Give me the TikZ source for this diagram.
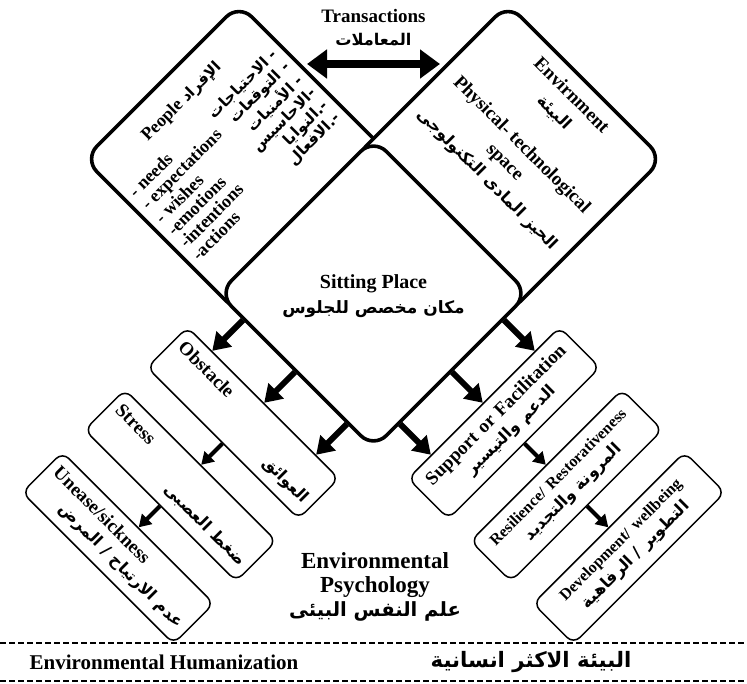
\documentclass[tikz,border=0pt]{standalone}
\usepackage{fontspec}
\setmainfont{Liberation Serif}
\newfontfamily\arfont[Script=Arabic,Scale=0.85]{DejaVu Sans}
\TeXXeTstate=1
\usetikzlibrary{arrows.meta,calc,positioning}
\newcommand{\arb}[1]{{\arfont\bfseries\beginR #1\endR}}
\tikzset{
    every node/.style={font=\bfseries\fontsize{19}{21}\selectfont},
    bigbox/.style={draw, line width=3.6pt, fill=white, rounded corners=18pt,
        minimum width=219pt, minimum height=219pt, inner sep=0pt},
    smallbox/.style={draw, line width=1.5pt, fill=white, rounded corners=9pt,
        minimum width=214pt, minimum height=57pt, inner sep=0pt, text width=198pt},
    bigarrow/.style={line width=6pt, -{Triangle[width=21pt,length=17pt]}},
    smallarrow/.style={line width=4pt, -{Triangle[width=14pt,length=12pt]}},
    bothways/.style={line width=8pt, {Triangle[width=28pt,length=20pt]}-{Triangle[width=28pt,length=20pt]}},
    sepline/.style={line width=1.3pt, dash pattern=on 6pt off 3pt}
}
\begin{document}
\begin{tikzpicture}[x=1pt, y=-1pt]
\useasboundingbox (0,0) rectangle (747,684);

% transactions between people and environment
\node (trans) at (373.5,16) {Transactions};
\node (transar) at (373.5,40) {\arb{المعاملات}};
\coordinate (tleft) at (307,64);
\coordinate (tright) at (440,64);
\draw[bothways] (tleft) -- (tright);

% people
\node[bigbox, rotate=45] (people) at (239,159) {};
\node[rotate=45, font=\bfseries\fontsize{18}{16.5}\selectfont] (peopletxt)
    at ($(people.center)!0.18!(people.north)$) {%
    \begin{tabular}{@{}l@{\hspace{6pt}}r@{}}
    \multicolumn{2}{@{}c@{}}{People \arb{الإفراد}}\\[14pt]
    - needs & \arb{- الاحتياجات}\\
    - expectations & \arb{- التوقعات}\\
    - wishes & \arb{- الأمنيات}\\
    -emotions & \arb{-الاحاسيس}\\
    -intentions & \arb{-.النوايا}\\
    -actions & \arb{-.الافعال}
    \end{tabular}};

% environment
\node[bigbox, rotate=45] (env) at (508,159) {};
\node[rotate=-45, align=center, font=\bfseries\fontsize{19}{24}\selectfont] (envtxt)
    at ($(env.center)!0.27!(env.east)$) {Envirnment\\ \arb{البيئة}\\[22pt]
    Physical- technological\\ space\\ \arb{الحيز المادى التكنولوجى}};

% sitting place
\node[bigbox, rotate=45] (sit) at (373.5,293.5) {};
\node[align=center, font=\bfseries\fontsize{20}{25}\selectfont] (sittxt)
    at ($(sit.center)+(0,3)$) {Sitting Place\\ \arb{مكان مخصص للجلوس}};

% outcomes
\node[smallbox, rotate=-45, align=left] (obs) at (243,423) {Obstacle\\ \leavevmode\hfill\arb{العوائق}};
\node[smallbox, rotate=-45, align=left] (stress) at (180.5,485.5) {Stress\\ \leavevmode\hfill\arb{ضغط العصبى}};
\node[smallbox, rotate=-45, align=left] (unease) at (118,548) {Unease/sickness\\ \leavevmode\hfill\arb{عدم الارتياح / المرض}};
\node[smallbox, rotate=45, align=center] (sup) at (504,423) {Support or Facilitation\\ \arb{الدعم والتيسير}};
\node[smallbox, rotate=45, align=center] (res) at (566.5,485.5) {{\fontsize{16}{18}\selectfont Resilience/ Restorativeness}\\ \arb{المرونة والتجديد}};
\node[smallbox, rotate=45, align=center] (dev) at (629,548) {{\fontsize{16}{18}\selectfont Development/ wellbeing}\\ \arb{التطوير / الرفاهية}};

% arrows out of the sitting place
\foreach \t [count=\i] in {0.17,0.5,0.83}{
    \coordinate (ls\i) at ($(sit.north west)!\t!(sit.south west)$);
    \coordinate (rs\i) at ($(sit.south east)!\t!(sit.south west)$);
    \draw[bigarrow] (ls\i) -- ($(obs.north west)!(ls\i)!(obs.north east)$);
    \draw[bigarrow] (rs\i) -- ($(sup.north west)!(rs\i)!(sup.north east)$);
}
\draw[smallarrow] (obs.south) -- (stress.north);
\draw[smallarrow] (stress.south) -- (unease.north);
\draw[smallarrow] (sup.south) -- (res.north);
\draw[smallarrow] (res.south) -- (dev.north);

% title
\node[align=center, font=\bfseries\fontsize{23}{24}\selectfont] (psych) at (375,587)
    {Environmental\\ Psychology\\ \arb{علم النفس البيئى}};

% bottom band
\draw[sepline] (0,643) -- (747,643);
\draw[sepline] (0,681) -- (747,681);
\node[font=\bfseries\fontsize{21}{24}\selectfont] (human) at (164,662) {Environmental Humanization};
\node[font=\bfseries\fontsize{25}{26}\selectfont] (humanar) at (531,662) {\arb{البيئة الاكثر انسانية}};
\end{tikzpicture}
\end{document}
